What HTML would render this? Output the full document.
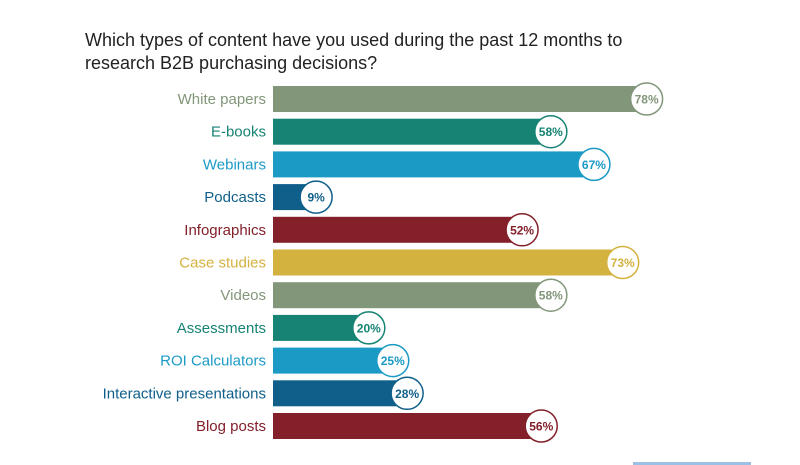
<!DOCTYPE html>
<html><head><meta charset="utf-8"><style>
body{margin:0;background:#fff;width:800px;height:465px;overflow:hidden;font-family:"Liberation Sans",sans-serif}
#title{position:absolute;left:85px;top:29px;font-size:18px;line-height:23px;color:#222;margin:0;font-weight:normal}
</style></head><body>
<h1 id="title">Which types of content have you used during the past 12 months to<br>research B2B purchasing decisions?</h1>
<svg id="chart" width="800" height="465" style="position:absolute;left:0;top:0"></svg>
<script>
const categories=["White papers","E-books","Webinars","Podcasts","Infographics","Case studies","Videos","Assessments","ROI Calculators","Interactive presentations","Blog posts"];
const values=[78,58,67,9,52,73,58,20,25,28,56];
const colors=["#82967a","#168374","#1b9ac6","#0f5f8a","#83202a","#d4b23f","#82967a","#168374","#1b9ac6","#0f5f8a","#83202a"];
const NS="http://www.w3.org/2000/svg";
const svg=document.getElementById('chart');
const x0=273, pxPer=4.79;
function xScale(v){return x0+v*pxPer;}
function yScale(i){return 86+i*32.7;}
const barH=26;
function mk(tag,attrs){const e=document.createElementNS(NS,tag);for(const k in attrs)e.setAttribute(k,attrs[k]);svg.appendChild(e);return e;}
categories.forEach((c,i)=>{
  const y=yScale(i), col=colors[i], xe=xScale(values[i]);
  const lab=mk('text',{x:266,y:y+barH/2+5,'text-anchor':'end','font-size':15,fill:col});
  lab.textContent=c;
  
  
  const r=mk('rect',{x:x0,y:y,width:xe-x0,height:barH,fill:col});
  
  
  const ci=mk('circle',{cx:xe,cy:y+barH/2,r:16,fill:'#fff',stroke:col,'stroke-width':1.5});
  
  
  const t=mk('text',{x:xe,y:y+barH/2+4.5,'text-anchor':'middle','font-size':12,'font-weight':'bold',fill:col});
  t.textContent=values[i]+'%';
  
  
});
const ln=mk('rect',{x:633,y:462,width:118,height:3,fill:'#9cc0e4'});


</script>
</body></html>
